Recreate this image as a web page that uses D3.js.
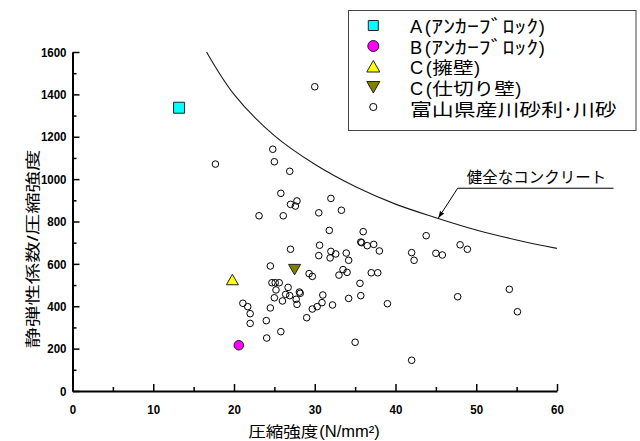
<!DOCTYPE html>
<html>
<head>
<meta charset="utf-8">
<script src="https://cdn.jsdelivr.net/npm/d3@7"></script>
<style>
  body { margin: 0; background: #fff; }
  svg { display: block; }
</style>
</head>
<body>
<svg id="chart" width="640" height="441"></svg>
<script>
// ---- data ----------------------------------------------------------------
const xTicks = [0, 10, 20, 30, 40, 50, 60];
const xMinorTicks = [5, 15, 25, 35, 45, 55];
const yTicks = [0, 200, 400, 600, 800, 1000, 1200, 1400, 1600];
const yMinorTicks = [100, 300, 500, 700, 900, 1100, 1300, 1500];

// specimens from the structures (compressive strength, Ec / fc)
const specimenNames = ["A", "B", "C", "C"];
const specimenParts = ["ｱﾝｶｰﾌﾞﾛｯｸ", "ｱﾝｶｰﾌﾞﾛｯｸ", "擁壁", "仕切り壁"];
const specimenFc = [13.2, 20.6, 19.8, 27.5];
const specimenRatio = [1337, 216, 525, 574];

// reference data: Toyama river gravel / river sand concrete  [fc, Ec/fc]
const riverLabel = "富山県産川砂利･川砂";
const riverPoints = [
  [30.0, 1436], [17.7, 1071], [24.8, 1141], [25.0, 1082], [26.9, 1037],
  [25.8, 933], [27.0, 881], [27.8, 897], [27.6, 873], [32.0, 909],
  [23.1, 827], [26.1, 827], [30.5, 841], [33.3, 853], [31.8, 758],
  [36.0, 752], [35.7, 703], [35.8, 700], [36.5, 686], [37.3, 692],
  [38.0, 661], [42.0, 653], [42.3, 617], [43.8, 733], [48.0, 690],
  [48.9, 669], [45.0, 650], [45.8, 642], [54.1, 480], [55.1, 374],
  [47.7, 445], [39.0, 412], [35.0, 230], [42.0, 145], [30.6, 688],
  [30.5, 639], [32.0, 659], [31.9, 628], [32.6, 647], [33.9, 651],
  [34.2, 617], [29.3, 554], [29.7, 541], [33.0, 547], [33.5, 573],
  [34.0, 560], [37.0, 558], [37.8, 558], [35.6, 508], [35.7, 450],
  [34.2, 437], [31.0, 453], [30.9, 417], [30.3, 398], [29.7, 387],
  [32.2, 406], [29.0, 346], [27.0, 669], [24.5, 590], [24.7, 511],
  [25.1, 511], [25.6, 511], [25.2, 477], [26.7, 489], [25.0, 440],
  [26.4, 456], [26.9, 450], [26.0, 425], [28.1, 467], [28.2, 461],
  [27.7, 433], [27.8, 409], [24.5, 392], [21.1, 414], [21.7, 398],
  [22.0, 365], [22.0, 319], [24.0, 332], [24.05, 250], [25.8, 280]
];

// sound-concrete reference line  [fc, Ec/fc]
const soundLabel = "健全なコンクリート";
const soundCurve = [
  [16.6, 1600], [20, 1400], [25, 1205], [30, 1070], [35, 965],
  [40, 882], [45, 818], [50, 760], [55, 713], [60, 673]
];
const calloutTip = [45.3, 816];
const calloutElbow = [47.7, 957];
const calloutEnd = [67.0, 957];

const xTitleMain = "圧縮強度";
const xTitleUnit = "(N/mm²)";
const yTitleParts = ["静弾性係数", "/", "圧縮強度"];

// ---- styles ----------------------------------------------------------------
const specimenFill = ["#00ffff", "#ff00ff", "#ffff00", "#808000"];
const specimenShape = ["square", "circle", "up", "down"];
// Latin face first keeps the line box compact; kanji/kana fall back to Noto CJK
const CJK = "'Liberation Sans', 'Noto Sans CJK JP', sans-serif";
const LATIN = "'Liberation Sans', Arial, sans-serif";

// ---- layout ----------------------------------------------------------------
const svg = d3.select("#chart");
const x = d3.scaleLinear().domain([0, 60]).range([72.5, 557]);
const y = d3.scaleLinear().domain([0, 1600]).range([391, 52]);

// one <text> made of runs; each run can have its own font and horizontal stretch
function runLabel(parent, runs, anchor) {
  const widths = runs.map(r => {
    const t = parent.append("text")
      .attr("font-family", r.family).attr("font-size", r.size)
      .attr("font-weight", r.weight || "normal").text(r.text);
    const w = t.node().getComputedTextLength() * (r.sx || 1);
    t.remove();
    return w;
  });
  const total = d3.sum(runs, (r, i) => widths[i] + (r.dx || 0));
  const shift = anchor === "middle" ? -total / 2 : anchor === "end" ? -total : 0;
  const g = parent.append("g");
  const text = g.append("text").attr("x", shift).attr("y", 0).attr("fill", "#000");
  runs.forEach((r, i) => {
    const ts = text.append("tspan")
      .attr("font-family", r.family)
      .attr("font-size", r.size)
      .attr("font-weight", r.weight || "normal")
      .attr("dx", r.dx || 0)
      .text(r.text);
    if (r.sx && r.sx !== 1) {
      ts.attr("textLength", widths[i]).attr("lengthAdjust", "spacingAndGlyphs");
    }
  });
  return g;
}

function markerPath(shape) {
  if (shape === "square") return "M-5.5,-5.5H5.5V5.5H-5.5Z";
  if (shape === "up") return "M0,-5.5L6,5L-6,5Z";
  if (shape === "down") return "M0,5.5L6,-5L-6,-5Z";
  return d3.symbol(d3.symbolCircle, 72)();
}

// ---- reference curve -------------------------------------------------------
svg.append("path")
  .datum(soundCurve)
  .attr("fill", "none")
  .attr("stroke", "#1a1a1a")
  .attr("stroke-width", 1.1)
  .attr("d", d3.line().x(d => x(d[0])).y(d => y(d[1])).curve(d3.curveCatmullRom));

// ---- axes ------------------------------------------------------------------
svg.append("g").attr("transform", `translate(0,${y(0)})`)
  .call(d3.axisBottom(x).tickValues(xTicks).tickFormat(d3.format("d"))
    .tickSize(-7).tickSizeOuter(0).tickPadding(14));
svg.append("g").attr("transform", `translate(0,${y(0)})`)
  .call(d3.axisBottom(x).tickValues(xMinorTicks).tickSize(-4).tickSizeOuter(0).tickFormat(""))
  .call(g => g.select(".domain").remove());
svg.append("g").attr("transform", `translate(${x(0)},0)`)
  .call(d3.axisLeft(y).tickValues(yTicks).tickFormat(d3.format("d"))
    .tickSize(-7).tickSizeOuter(0).tickPadding(6));
svg.append("g").attr("transform", `translate(${x(0)},0)`)
  .call(d3.axisLeft(y).tickValues(yMinorTicks).tickSize(-4).tickSizeOuter(0).tickFormat(""))
  .call(g => g.select(".domain").remove());

svg.selectAll(".domain").attr("stroke", "#000").attr("stroke-width", 2);
svg.selectAll(".tick line").attr("stroke", "#000").attr("stroke-width", 1.5);
svg.selectAll(".tick text")
  .filter(function () { return this.textContent !== ""; })
  .attr("font-family", LATIN).attr("font-size", 13).attr("font-weight", "bold").attr("fill", "#000")
  .attr("textLength", function () { return this.textContent.length * 6.4; })
  .attr("lengthAdjust", "spacingAndGlyphs");

// axis titles
runLabel(svg, [
  { text: xTitleMain, family: CJK, size: 15, sx: 1.17 },
  { text: xTitleUnit, family: LATIN, size: 16.5, dx: 1 }
], "middle").attr("transform", "translate(314,437)");

runLabel(svg, [
  { text: yTitleParts[0], family: CJK, size: 14.5, sx: 1.48 },
  { text: yTitleParts[1], family: CJK, size: 14.5, sx: 1.48 },
  { text: yTitleParts[2], family: CJK, size: 14.5, sx: 1.48 }
], "middle").attr("transform", "translate(37.5,249) rotate(-90)");

// ---- reference points ------------------------------------------------------
svg.append("g").selectAll("circle")
  .data(riverPoints)
  .join("circle")
  .attr("cx", d => x(d[0]))
  .attr("cy", d => y(d[1]))
  .attr("r", 3.3)
  .attr("fill", "none")
  .attr("stroke", "#000")
  .attr("stroke-width", 1);

// ---- specimens -------------------------------------------------------------
svg.append("g").selectAll("path")
  .data(specimenFc.map((fc, i) => ({ fc, ratio: specimenRatio[i], i })))
  .join("path")
  .attr("transform", d => `translate(${x(d.fc)},${y(d.ratio)})`)
  .attr("d", d => markerPath(specimenShape[d.i]))
  .attr("fill", d => specimenFill[d.i])
  .attr("stroke", "#222")
  .attr("stroke-width", 1);

// ---- callout ---------------------------------------------------------------
svg.append("defs").append("marker")
  .attr("id", "arrow").attr("viewBox", "0 0 10 10")
  .attr("refX", 10).attr("refY", 5)
  .attr("markerWidth", 7).attr("markerHeight", 7)
  .attr("orient", "auto-start-reverse")
  .append("path").attr("d", "M0,1.5L10,5L0,8.5Z").attr("fill", "#000");

svg.append("path")
  .attr("d", d3.line()([
    [x(calloutEnd[0]), y(calloutEnd[1])],
    [x(calloutElbow[0]), y(calloutElbow[1])],
    [x(calloutTip[0]), y(calloutTip[1])]
  ]))
  .attr("fill", "none").attr("stroke", "#000").attr("stroke-width", 1)
  .attr("marker-end", "url(#arrow)");

runLabel(svg, [{ text: soundLabel, family: CJK, size: 15.5 }], "start")
  .attr("transform", `translate(${x(calloutElbow[0]) + 9},${y(calloutElbow[1]) - 5.5})`);

// ---- legend ----------------------------------------------------------------
const legend = svg.append("g");
legend.append("rect")
  .attr("x", 348.5).attr("y", 10.5).attr("width", 287.5).attr("height", 120)
  .attr("fill", "#fff").attr("stroke", "#444").attr("stroke-width", 1);

const rowBase = i => 33 + i * 20.5;
const markerX = 373.3;
const textX = 410;

specimenNames.forEach((name, i) => {
  const my = rowBase(i) - 7.5;
  legend.append("path")
    .attr("transform", `translate(${markerX},${my})`)
    .attr("d", i === 0 ? "M-5,-5H5V5H-5Z"
              : i === 1 ? d3.symbol(d3.symbolCircle, 95)()
              : i === 2 ? "M0,-6L6.5,5.5L-6.5,5.5Z"
              : "M0,6L6.5,-5.5L-6.5,-5.5Z")
    .attr("fill", specimenFill[i]).attr("stroke", "#222").attr("stroke-width", 1);

  const kana = i < 2;
  runLabel(legend, [
    { text: name, family: LATIN, size: 18.3 },
    { text: "(", family: CJK, size: 18.3, dx: 2.5 },
    kana ? { text: specimenParts[i], family: CJK, size: 18.3, sx: 1.3, dx: 0.5 }
         : { text: specimenParts[i], family: CJK, size: 16.5, sx: 1.25, dx: 0.5 },
    { text: ")", family: CJK, size: 18.3, dx: 0.5 }
  ], "start").attr("transform", `translate(${textX},${rowBase(i)})`);
});

legend.append("circle")
  .attr("cx", markerX).attr("cy", rowBase(4) - 8)
  .attr("r", 3.6).attr("fill", "#fff").attr("stroke", "#000").attr("stroke-width", 1);
const dotIdx = riverLabel.indexOf("･");
runLabel(legend, [
  { text: riverLabel.slice(0, dotIdx), family: CJK, size: 17.5, sx: 1.25 },
  { text: "･", family: CJK, size: 17.5, dx: 0.5 },
  { text: riverLabel.slice(dotIdx + 1), family: CJK, size: 17.5, sx: 1.25, dx: 0.5 }
], "start").attr("transform", `translate(${textX},${rowBase(4) + 0.5})`);
</script>
</body>
</html>
